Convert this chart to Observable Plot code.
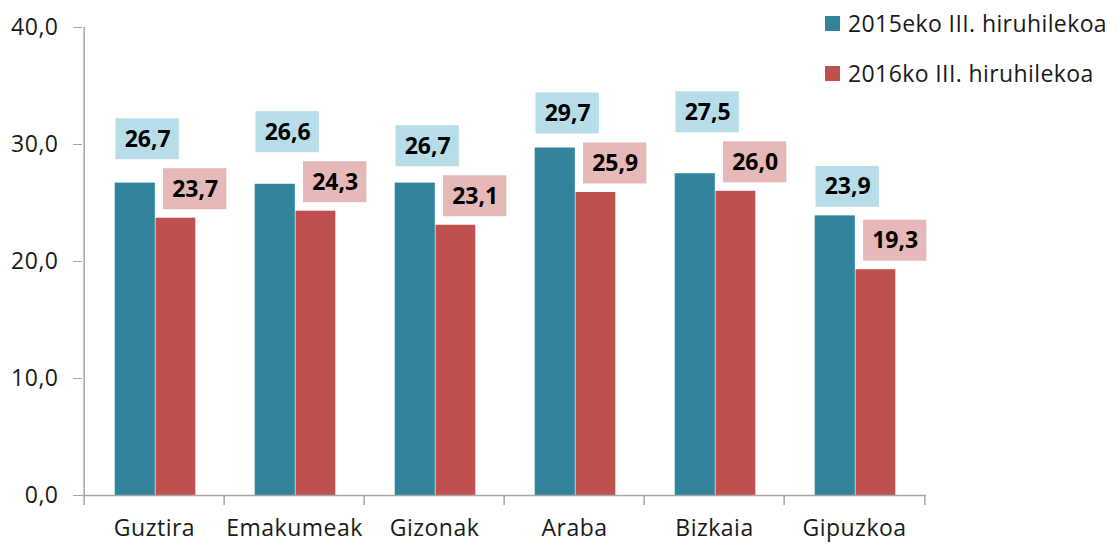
<!DOCTYPE html>
<html>
<head>
<meta charset="utf-8">
<script src="https://cdn.jsdelivr.net/npm/d3@7"></script>
<script src="https://cdn.jsdelivr.net/npm/@observablehq/plot@0.6"></script>
<style>
  html, body { margin: 0; padding: 0; background: #fff; }
  #wrap { position: relative; width: 1120px; height: 545px; font-family: "Open Sans", Lato, sans-serif; }
  #legend { position: absolute; left: 825px; top: 0; }
  .item { position: absolute; white-space: nowrap; display: flex; align-items: center; font-size: 23px; letter-spacing: 0.4px; color: #1a1a1a; }
  .sw { width: 15px; height: 15px; margin-right: 8px; display: inline-block; }
  g[aria-label="x-axis tick label"] text, g[aria-label="y-axis tick label"] text { letter-spacing: 0.5px; }
</style>
</head>
<body>
<div id="wrap"><div id="legend"></div></div>
<script>
const categories = ["Guztira", "Emakumeak", "Gizonak", "Araba", "Bizkaia", "Gipuzkoa"];
const values2015 = [26.7, 26.6, 26.7, 29.7, 27.5, 23.9];
const values2016 = [23.7, 24.3, 23.1, 25.9, 26.0, 19.3];
const seriesNames = ["2015eko III. hiruhilekoa", "2016ko III. hiruhilekoa"];
const yTicks = [0, 10, 20, 30, 40];

const colors = ["#31849B", "#C0504D"];
const boxColors = ["#B7DEE8", "#E6B9B8"];

const W = 1120, H = 545, mL = 82, mR = 194, mT = 27, mB = 50;
const step = (W - mL - mR) / categories.length;
const pxPerUnit = (H - mT - mB) / 40;
const fmt = d => d.toFixed(1).replace(".", ",");

const d15 = categories.map((c, i) => ({cat: c, v: values2015[i]}));
const d16 = categories.map((c, i) => ({cat: c, v: values2016[i]}));
// label anchors: red above its bar; blue above its bar but kept clear of the red label
const gapUnits = 50 / pxPerUnit;
const l16 = d16.map(d => ({cat: d.cat, v: d.v, a: d.v}));
const l15 = d15.map((d, i) => ({cat: d.cat, v: d.v, a: Math.max(d.v, values2016[i] + gapUnits)}));
const tickLen = 10 / pxPerUnit;
const axisGray = "#A6A6A6";
const labelDy = -29;

const chart = Plot.plot({
  width: W, height: H,
  marginLeft: mL, marginRight: mR, marginTop: mT, marginBottom: mB,
  style: {fontFamily: "'Open Sans', Lato, sans-serif", fontSize: "23px", color: "#1a1a1a", background: "transparent"},
  x: {domain: categories, padding: 0, axis: null},
  y: {domain: [0, 40], axis: null},
  marks: [
    // bars
    Plot.barY(d15, {x: "cat", y: "v", fill: colors[0], insetLeft: 30.7, insetRight: step - 71.5}),
    Plot.barY(d16, {x: "cat", y: "v", fill: colors[1], insetLeft: 71.5, insetRight: step - 112}),
    // label boxes
    Plot.barY(l15, {x: "cat", y1: "a", y2: "a", fill: boxColors[0], dy: labelDy,
      insetTop: -20.5, insetBottom: -20.5, insetLeft: 31.5, insetRight: step - 95.5}),
    Plot.barY(l16, {x: "cat", y1: "a", y2: "a", fill: boxColors[1], dy: labelDy,
      insetTop: -20.5, insetBottom: -20.5, insetLeft: 79, insetRight: step - 143}),
    Plot.text(l15, {x: "cat", y: "a", text: d => fmt(d.v), dy: labelDy, dx: 63.5 - step / 2,
      fontWeight: "bold", fontSize: 23, fill: "#000", lineAnchor: "middle"}),
    Plot.text(l16, {x: "cat", y: "a", text: d => fmt(d.v), dy: labelDy, dx: 111 - step / 2,
      fontWeight: "bold", fontSize: 23, fill: "#000", lineAnchor: "middle"}),
    // axes lines
    Plot.ruleY([0], {stroke: axisGray, strokeWidth: 1.5}),
    Plot.ruleX([categories[0]], {y1: 0, y2: 40, dx: -step / 2, stroke: axisGray, strokeWidth: 1.5}),
    Plot.ruleX(categories, {y1: 0, y2: -tickLen, dx: -step / 2, stroke: axisGray, strokeWidth: 1.5}),
    Plot.ruleX([categories[categories.length - 1]], {y1: 0, y2: -tickLen, dx: step / 2, stroke: axisGray, strokeWidth: 1.5}),
    Plot.axisY({ticks: yTicks, tickFormat: fmt, tickSize: 9, tickPadding: 15, stroke: axisGray, fontSize: 23, fill: "#1a1a1a", label: null}),
    Plot.axisX({tickSize: 0, tickPadding: 24, fontSize: 23, fill: "#1a1a1a", label: null})
  ]
});
document.getElementById("wrap").prepend(chart);

const legend = document.getElementById("legend");
seriesNames.forEach((name, i) => {
  const it = document.createElement("div");
  it.className = "item";
  it.style.top = (7 + i * 50) + "px";
  it.innerHTML = `<span class="sw" style="background:${colors[i]}"></span><span>${name}</span>`;
  legend.appendChild(it);
});
</script>
</body>
</html>
